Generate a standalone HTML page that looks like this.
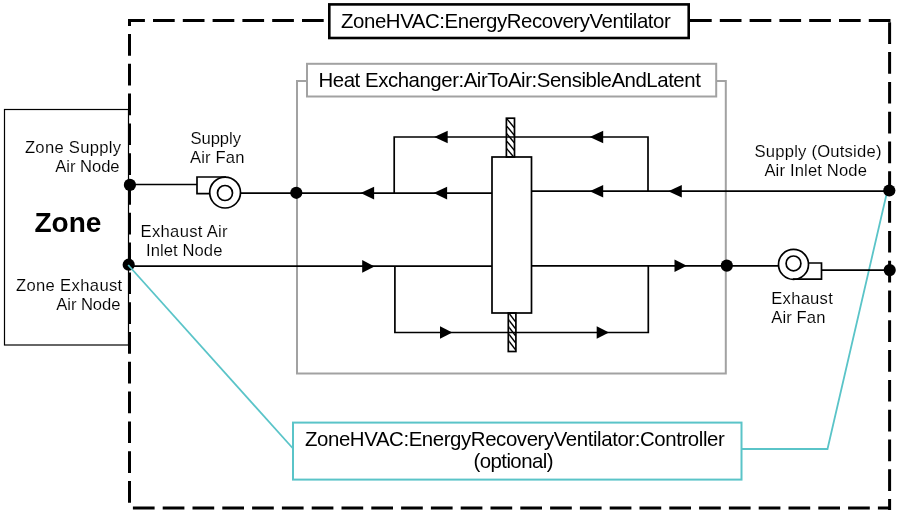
<!DOCTYPE html>
<html><head><meta charset="utf-8"><style>
html,body{margin:0;padding:0;background:#fff;}
body{width:899px;height:515px;overflow:hidden;position:relative;}
svg{display:block;}
.ov{position:absolute;left:0;top:0;will-change:transform;}
text{font-family:"Liberation Sans", sans-serif;}
.sm{stroke:#fff;stroke-width:0.1px;}
</style></head><body>
<svg width="899" height="515" viewBox="0 0 899 515">
<defs>
<clipPath id="cb1"><rect x="507" y="119" width="7.5" height="38"/></clipPath>
<clipPath id="cb2"><rect x="509.2" y="313" width="6.8" height="38.5"/></clipPath>
</defs>
<rect x="0" y="0" width="899" height="515" fill="#fff"/>
<!-- zone box -->
<rect x="4.5" y="109.5" width="124" height="235.5" fill="none" stroke="#000" stroke-width="1.2"/>
<!-- dashed outer -->
<g stroke="#000" stroke-width="3" fill="none" stroke-dasharray="21.7 8.1">
<line x1="128" y1="20.5" x2="328" y2="20.5" stroke-dashoffset="4.8"/>
<line x1="690" y1="20.5" x2="891" y2="20.5" stroke-dashoffset="0"/>
<line x1="129.5" y1="19" x2="129.5" y2="510" stroke-dashoffset="14.8"/>
<line x1="889.6" y1="19" x2="889.6" y2="510" stroke-dashoffset="26.5"/>
<line x1="128" y1="508" x2="891" y2="508" stroke-dashoffset="24.9"/>
</g>
<!-- title box -->
<rect x="329.3" y="4.4" width="359.4" height="33.6" fill="#fff" stroke="#000" stroke-width="2.6"/>
<!-- HX box -->
<rect x="297" y="81" width="428.8" height="292.5" fill="none" stroke="#a2a2a2" stroke-width="2"/>
<rect x="307" y="63.8" width="409.2" height="32.7" fill="#fff" stroke="#a2a2a2" stroke-width="2"/>
<!-- controller -->
<g stroke="#5ac4c8" stroke-width="2" fill="none">
<rect x="293" y="422.6" width="448.5" height="57"/>
<polyline points="887.4,190.5 827.5,449 741.5,449" stroke-width="1.8"/>
</g>
<g stroke="#000" stroke-width="1.7" fill="none">
<!-- supply lines -->
<line x1="130" y1="184.5" x2="197" y2="184.5"/>
<path d="M210,193.6 H197 V177 H226"/>
<circle cx="225.1" cy="192.6" r="15.4"/>
<circle cx="225" cy="193" r="7.5"/>
<line x1="240" y1="193.1" x2="492" y2="193.1"/>
<line x1="531.5" y1="191.2" x2="889.4" y2="191.2"/>
<polyline points="394.2,193.1 394.2,137 648,137 648,191.2"/>
<!-- exhaust -->
<line x1="128.7" y1="266.2" x2="492" y2="266.2"/>
<line x1="531.5" y1="265.8" x2="778" y2="265.8"/>
<polyline points="394.9,266.2 394.9,332.5 648.3,332.5 648.3,266"/>
<circle cx="793.5" cy="264.4" r="15"/>
<circle cx="793.5" cy="263.4" r="7.4"/>
<path d="M808,263 H821.5 V279.2 H793"/>
<line x1="821.5" y1="270.1" x2="889.7" y2="270.1"/>
<!-- block & bars -->
<rect x="492" y="157" width="39.5" height="156"/>
<rect x="506.4" y="118.2" width="8.1" height="38.8"/>
<rect x="508.3" y="313" width="7.6" height="38.5"/>
</g>
<g stroke="#000" stroke-width="1.4" clip-path="url(#cb1)"><line x1="505" y1="116.6" x2="516.5" y2="130.4"/><line x1="505" y1="124.1" x2="516.5" y2="137.9"/><line x1="505" y1="131.6" x2="516.5" y2="145.4"/><line x1="505" y1="139.1" x2="516.5" y2="152.9"/><line x1="505" y1="146.6" x2="516.5" y2="160.4"/></g>
<g stroke="#000" stroke-width="1.4" clip-path="url(#cb2)"><line x1="507.2" y1="310.9" x2="518" y2="324.94"/><line x1="507.2" y1="317.9" x2="518" y2="331.94"/><line x1="507.2" y1="324.9" x2="518" y2="338.94"/><line x1="507.2" y1="331.9" x2="518" y2="345.94"/><line x1="507.2" y1="338.9" x2="518" y2="352.94"/></g>
<line x1="492" y1="266" x2="531.5" y2="266" stroke="none"/>
<!-- arrows -->
<g fill="#000">
<path d="M360.6,193.1 L374.1,186.79999999999998 L374.1,199.4 Z"/><path d="M433.6,193.1 L447.1,186.79999999999998 L447.1,199.4 Z"/><path d="M434.2,137 L447.7,130.7 L447.7,143.3 Z"/><path d="M589.7,137 L603.2,130.7 L603.2,143.3 Z"/><path d="M589.7,191.2 L603.2,184.89999999999998 L603.2,197.5 Z"/><path d="M668.3,191.2 L681.8,184.89999999999998 L681.8,197.5 Z"/>
<path d="M374.5,266.4 L362.2,260.09999999999997 L362.2,272.7 Z"/><path d="M686.8,265.8 L674.5,259.5 L674.5,272.1 Z"/><path d="M452.3,332.5 L440.0,326.2 L440.0,338.8 Z"/><path d="M609,332.5 L596.7,326.2 L596.7,338.8 Z"/>
</g>
<!-- dots -->
<g fill="#000">
<circle cx="129.9" cy="184.9" r="6.1"/>
<circle cx="128.7" cy="264.7" r="6.1"/>
<circle cx="296.3" cy="192.8" r="6.1"/>
<circle cx="726.8" cy="265.6" r="6.1"/>
<circle cx="889.3" cy="190.5" r="6.1"/>
<circle cx="889.7" cy="270.1" r="6.1"/>
</g>
<line x1="128.2" y1="265" x2="293" y2="448.5" stroke="#5ac4c8" stroke-width="1.8"/>
</svg>
<svg class="ov" width="899" height="515" viewBox="0 0 899 515">
<g font-family="Liberation Sans, sans-serif" fill="#000">
<text x="341.00" y="27.50" font-size="20.4" letter-spacing="-0.412">ZoneHVAC:EnergyRecoveryVentilator</text><text x="318.50" y="86.80" font-size="20.4" letter-spacing="-0.445">Heat Exchanger:AirToAir:SensibleAndLatent</text><text x="305.00" y="445.60" font-size="20.4" letter-spacing="-0.402">ZoneHVAC:EnergyRecoveryVentilator:Controller</text><text x="473.50" y="468.40" font-size="20.4" letter-spacing="-0.561">(optional)</text><text class="sm" x="24.90" y="152.90" font-size="16.6" letter-spacing="0.31">Zone Supply</text><text class="sm" x="55.30" y="171.70" font-size="16.6" letter-spacing="-0.043">Air Node</text><text class="sm" x="15.90" y="290.70" font-size="16.6" letter-spacing="0.359">Zone Exhaust</text><text class="sm" x="56.30" y="309.50" font-size="16.6" letter-spacing="-0.071">Air Node</text><text x="34.50" y="231.80" font-size="28" font-weight="bold">Zone</text><text class="sm" x="190.40" y="144.00" font-size="16.6" letter-spacing="-0.03">Supply</text><text class="sm" x="190.00" y="162.60" font-size="16.6" letter-spacing="0.15">Air Fan</text><text class="sm" x="140.60" y="237.40" font-size="16.6" letter-spacing="0.305">Exhaust Air</text><text class="sm" x="146.00" y="256.40" font-size="16.6" letter-spacing="0.083">Inlet Node</text><text class="sm" x="754.50" y="156.90" font-size="16.6" letter-spacing="0.223">Supply (Outside)</text><text class="sm" x="764.40" y="175.50" font-size="16.6" letter-spacing="0.158">Air Inlet Node</text><text class="sm" x="771.30" y="303.70" font-size="16.6" letter-spacing="0.25">Exhaust</text><text class="sm" x="771.30" y="322.50" font-size="16.6" letter-spacing="0.1">Air Fan</text>
</g>
</svg></body></html>
